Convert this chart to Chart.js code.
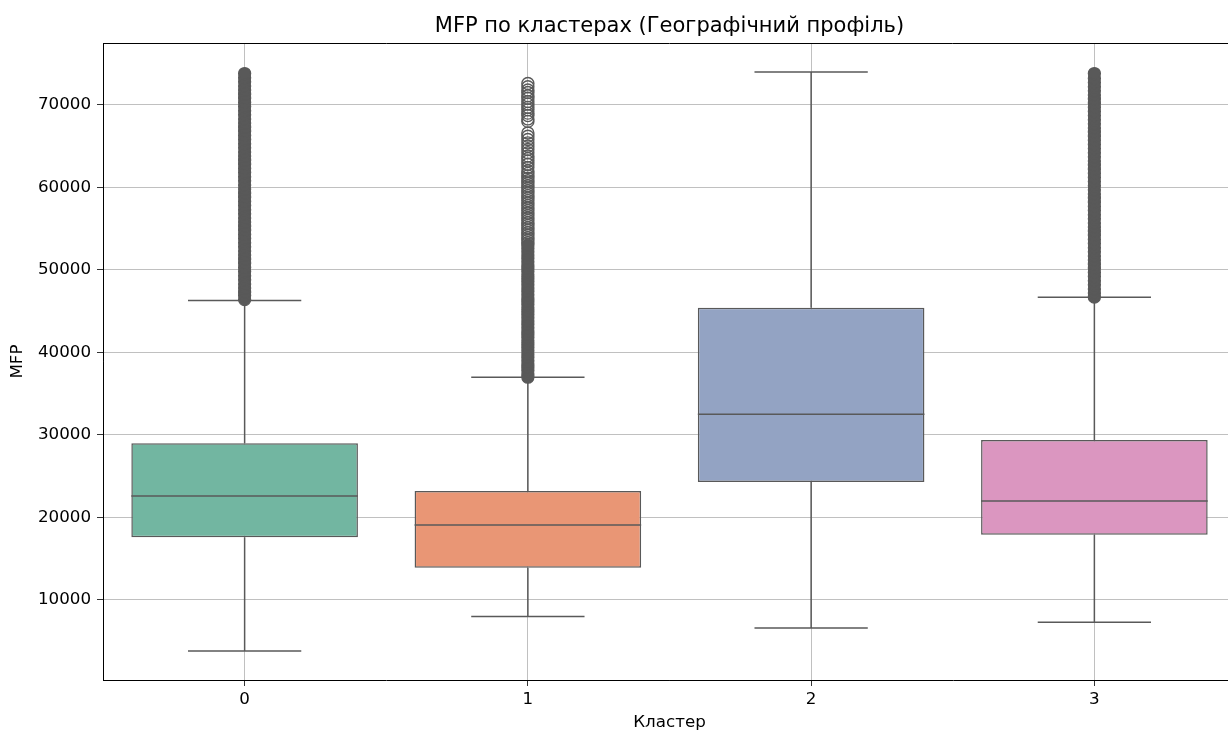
<!DOCTYPE html>
<html>
<head>
<meta charset="utf-8">
<script src="https://cdn.jsdelivr.net/npm/chart.js@4.4.1/dist/chart.umd.min.js"></script>
<style>
  html, body { margin: 0; padding: 0; background: #fff; overflow: hidden; }
  canvas { display: block; }
</style>
</head>
<body>
<canvas id="chart" width="1260" height="732"></canvas>
<script>
// box statistics per cluster
var clusters  = [0, 1, 2, 3];
var q1        = [17600, 13900, 24300, 17900];
var median    = [22600, 19100, 32500, 22000];
var q3        = [29000, 23200, 45400, 29400];
var whiskLow  = [3800, 8000, 6600, 7300];
var whiskHigh = [46300, 37000, 74000, 46700];

var yTicks = [10000, 20000, 30000, 40000, 50000, 60000, 70000];

// outliers (the dense columns are listed as read, roughly every 500)
var out0 = [46400, 46900, 47300, 47800, 48300, 48800, 49300, 49800, 50300, 50800, 51300, 51800,
  52300, 52800, 53300, 53800, 54300, 54800, 55300, 55800, 56300, 56800, 57300, 57800, 58300,
  58800, 59300, 59800, 60300, 60800, 61300, 61800, 62300, 62800, 63300, 63800, 64300, 64800,
  65300, 65800, 66300, 66800, 67300, 67800, 68300, 68800, 69300, 69800, 70300, 70800, 71300,
  71800, 72300, 72800, 73300, 73800];
var out1Dense = [37000, 37400, 37800, 38200, 38600, 39000, 39400, 39800, 40200, 40600, 41000,
  41400, 41800, 42200, 42600, 43000, 43400, 43800, 44200, 44600, 45000, 45400, 45800, 46200,
  46600, 47000, 47400, 47800, 48200, 48600, 49000, 49400, 49800, 50200, 50600, 51000, 51400,
  51800, 52200, 52600, 53000];
var out1Sparse = [53300, 53600, 53900, 54200, 54500, 54800, 55100, 55400, 55700, 56000, 56300,
  56600, 56900, 57200, 57500, 57800, 58100, 58400, 58700, 59000, 59300, 59600, 59900, 60200,
  60500, 60800, 61100, 61400, 61700, 62000, 62400, 62800, 63200, 63500, 63800, 64200, 64600,
  65000, 65400, 65800, 66200, 66600, 68000, 68300, 68700, 69000, 69400, 69700, 70100, 70400,
  70800, 71100, 71500, 71800, 72200, 72600];
var out3 = [46700, 47200, 47700, 48200, 48700, 49200, 49700, 50200, 50700, 51200, 51700, 52200,
  52700, 53200, 53700, 54200, 54700, 55200, 55700, 56200, 56700, 57200, 57700, 58200, 58700,
  59200, 59700, 60200, 60700, 61200, 61700, 62200, 62700, 63200, 63700, 64200, 64700, 65200,
  65700, 66200, 66700, 67200, 67700, 68200, 68700, 69200, 69700, 70200, 70700, 71200, 71700,
  72200, 72700, 73200, 73800];

var boxColors = ['#72b6a1', '#e99675', '#93a3c3', '#db96c0'];
var lineGray = '#595959';

Chart.defaults.font.family = '"DejaVu Sans", sans-serif';
Chart.defaults.color = '#000';

function toPoints(c, arr) {
  return arr.map(function (v) { return { x: c, y: v }; });
}

var datasets = [];

datasets.push({
  type: 'bar',
  data: clusters.map(function (c, i) { return { x: c, y: [q1[i], q3[i]] }; }),
  backgroundColor: boxColors,
  borderColor: lineGray,
  borderWidth: 1.5,
  borderSkipped: false,
  barPercentage: 0.8,
  categoryPercentage: 1,
  order: 3
});

clusters.forEach(function (c, i) {
  var gap = { x: null, y: null };
  datasets.push({
    type: 'line',
    data: [
      { x: c, y: q1[i] }, { x: c, y: whiskLow[i] }, gap,
      { x: c - 0.2, y: whiskLow[i] }, { x: c + 0.2, y: whiskLow[i] }, gap,
      { x: c, y: q3[i] }, { x: c, y: whiskHigh[i] }, gap,
      { x: c - 0.2, y: whiskHigh[i] }, { x: c + 0.2, y: whiskHigh[i] }, gap,
      { x: c - 0.4, y: median[i] }, { x: c + 0.4, y: median[i] }
    ],
    borderColor: lineGray,
    borderWidth: 1.5,
    pointRadius: 0,
    spanGaps: false,
    fill: false,
    order: 2
  });
});

var dense = toPoints(0, out0).concat(toPoints(1, out1Dense), toPoints(3, out3));
datasets.push({
  type: 'scatter',
  data: dense,
  pointRadius: 6,
  pointBorderWidth: 1.3,
  pointBorderColor: lineGray,
  pointBackgroundColor: lineGray,
  order: 1
});
datasets.push({
  type: 'scatter',
  data: toPoints(1, out1Sparse),
  pointRadius: 6,
  pointBorderWidth: 1.4,
  pointBorderColor: lineGray,
  pointBackgroundColor: 'rgba(0,0,0,0)',
  order: 1
});

var frame = {
  id: 'frame',
  afterDraw: function (chart) {
    var a = chart.chartArea, ctx = chart.ctx;
    ctx.save();
    ctx.strokeStyle = '#000';
    ctx.lineWidth = 1;
    ctx.beginPath();
    ctx.moveTo(a.left, a.top + 0.5);
    ctx.lineTo(a.right, a.top + 0.5);
    ctx.lineTo(a.right, a.bottom);
    ctx.stroke();
    ctx.restore();
  }
};

var ctx = document.getElementById('chart').getContext('2d');
new Chart(ctx, {
  type: 'bar',
  data: { datasets: datasets },
  plugins: [frame],
  options: {
    responsive: false,
    animation: false,
    events: [],
    layout: { padding: { top: 0, right: 24, bottom: 0, left: 0 } },
    plugins: {
      legend: { display: false },
      tooltip: { enabled: false },
      title: {
        display: true,
        text: 'MFP по кластерах (Географічний профіль)',
        fullSize: false,
        color: '#000',
        font: { size: 21, weight: 'normal', lineHeight: 1.2 },
        padding: { top: 14, bottom: 3.8 }
      }
    },
    scales: {
      x: {
        type: 'linear',
        min: -0.5,
        max: 3.5,
        offset: false,
        afterBuildTicks: function (s) { s.ticks = clusters.map(function (v) { return { value: v }; }); },
        afterFit: function (s) { s.height = 52; },
        ticks: { color: '#000', padding: 4, font: { size: 16.7 }, callback: function (v) { return String(v); } },
        grid: { color: '#b0b0b0', lineWidth: 0.8, tickColor: '#000', tickLength: 6, offset: false },
        border: { color: '#000', width: 1 },
        title: { display: true, text: 'Кластер', color: '#000', font: { size: 16.7 }, padding: { top: 0, bottom: -1 } }
      },
      y: {
        type: 'linear',
        min: 300,
        max: 77500,
        afterBuildTicks: function (s) { s.ticks = yTicks.map(function (v) { return { value: v }; }); },
        afterFit: function (s) { s.width = 103; },
        ticks: { color: '#000', padding: 6, font: { size: 16.7 }, callback: function (v) { return String(v); } },
        grid: { color: '#b0b0b0', lineWidth: 0.8, tickColor: '#000', tickLength: 6 },
        border: { color: '#000', width: 1 },
        title: { display: true, text: 'MFP', color: '#000', font: { size: 16.7 }, padding: { top: 8, bottom: 0 } }
      }
    }
  }
});
</script>
</body>
</html>
